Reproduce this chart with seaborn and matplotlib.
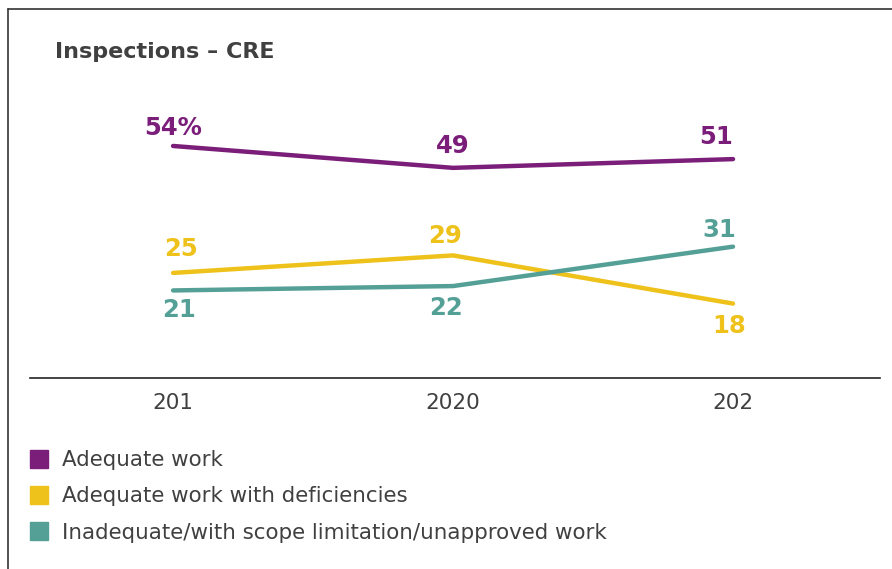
import matplotlib
matplotlib.use("Agg")
import matplotlib.pyplot as plt
import seaborn as sns
import pandas as pd
from matplotlib.lines import Line2D

years = ["201", "2020", "202"]
series_names = ["Adequate work", "Adequate work with deficiencies",
                "Inadequate/with scope limitation/unapproved work"]
adequate = [54, 49, 51]
deficiencies = [25, 29, 18]
inadequate = [21, 22, 31]
colors = ["#7B1E7A", "#EEC21B", "#55A096"]
title = "Inspections – CRE"

df = pd.DataFrame({
    "year": years * 3,
    "value": adequate + deficiencies + inadequate,
    "series": [series_names[0]] * 3 + [series_names[1]] * 3 + [series_names[2]] * 3,
})

sns.set_style("white")
plt.rcParams['font.family'] = ['DejaVu Sans']

fig = plt.figure(figsize=(8.92, 5.69), dpi=100)
ax = fig.add_axes([30 / 892, 191 / 569, 850 / 892, 278 / 569])

sns.lineplot(data=df, x="year", y="value", hue="series", palette=colors,
             linewidth=3.2, ax=ax, legend=False, sort=False)

ax.set_xlim(-0.511, 2.525)
ax.set_ylim(1.0, 64.5)
ax.set_xlabel("")
ax.set_ylabel("")
ax.set_yticks([])
ax.set_xticks(range(len(years)))
ax.set_xticklabels(years, fontsize=15.5, color="#404040")
ax.tick_params(axis="x", length=0, pad=11)
for s in ["top", "right", "left"]:
    ax.spines[s].set_visible(False)
ax.spines["bottom"].set_color("#222222")
ax.spines["bottom"].set_linewidth(1.2)

# value labels (offsets in points)
lab_fs = 17.5
def label(xi, v, text, color, dx, dy):
    ax.annotate(text, (xi, v), xytext=(dx, dy), textcoords="offset points",
                ha="center", va="center", fontsize=lab_fs, fontweight="bold",
                color=color)

adq_txt = [f"{adequate[0]}%", str(adequate[1]), str(adequate[2])]
adq_off = [(0, 13), (0, 16), (-12, 16)]
def_off = [(6, 17), (-6, 14), (-3, -16)]
ina_off = [(4, -14), (-5, -16), (-10, 12)]
for i in range(3):
    label(i, adequate[i], adq_txt[i], colors[0], *adq_off[i])
    label(i, deficiencies[i], str(deficiencies[i]), colors[1], *def_off[i])
    label(i, inadequate[i], str(inadequate[i]), colors[2], *ina_off[i])

fig.text(55 / 892, 1 - 52 / 569, title, fontsize=16, fontweight="bold",
         color="#404040", ha="left", va="center")

handles = [Line2D([0], [0], marker="s", linestyle="none", markersize=13,
                  markerfacecolor=c, markeredgecolor=c) for c in colors]
fig.legend(handles, series_names, loc="upper left",
           bbox_to_anchor=(28 / 892, 1 - 450 / 569), frameon=False,
           fontsize=15.4, labelcolor="#404040", handlelength=1.0,
           handletextpad=0.6, labelspacing=0.76, borderaxespad=0,
           borderpad=0)

# frame lines (left and top)
fig.add_artist(Line2D([7.5 / 892, 7.5 / 892], [0, 1 - 9 / 569],
                      transform=fig.transFigure, color="#333333", linewidth=1.2))
fig.add_artist(Line2D([7.5 / 892, 1], [1 - 9 / 569, 1 - 9 / 569],
                      transform=fig.transFigure, color="#333333", linewidth=1.2))

fig.savefig("out.png", dpi=100, facecolor="white")
